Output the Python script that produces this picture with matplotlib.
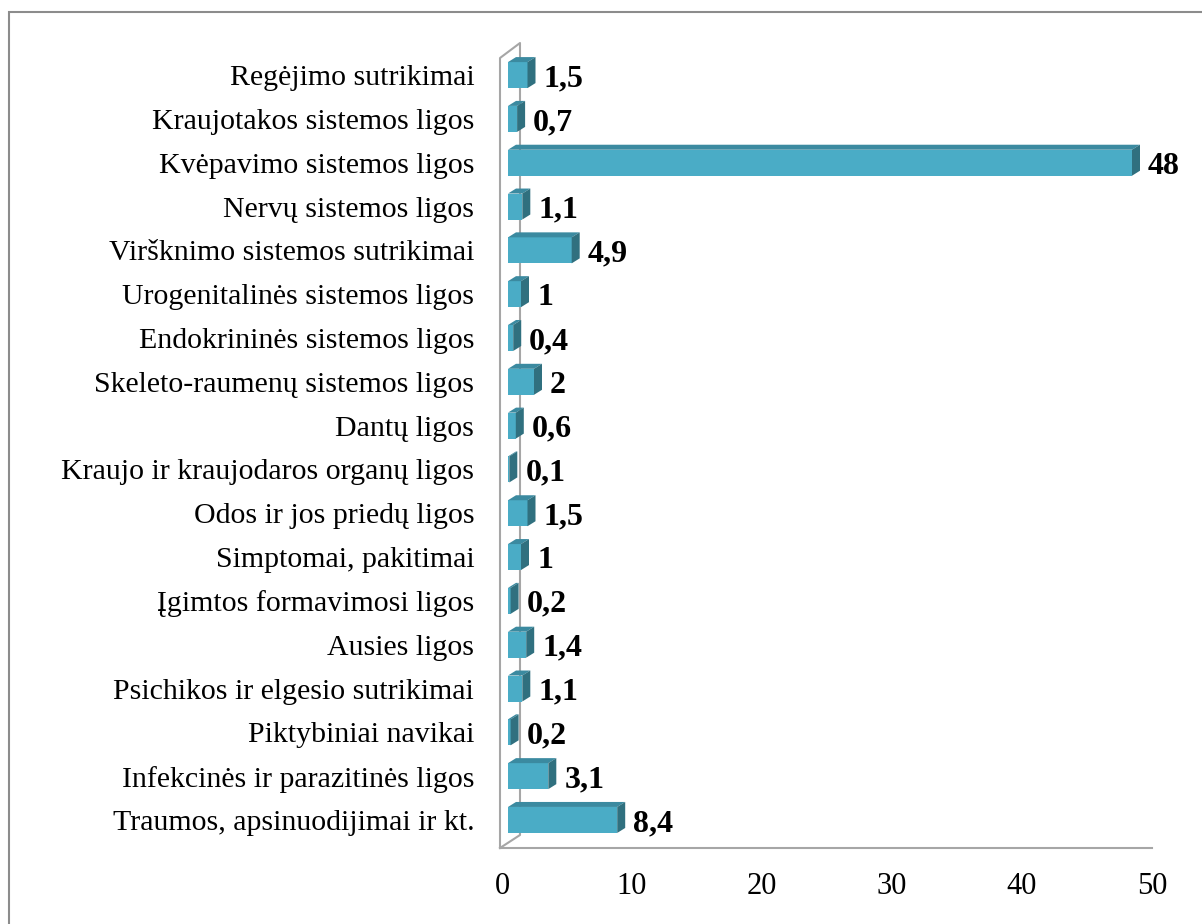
import matplotlib.pyplot as plt
from matplotlib.patches import Polygon, Rectangle

# bottom to top
categories = [
    "Traumos, apsinuodijimai ir kt.",
    "Infekcinės ir parazitinės ligos",
    "Piktybiniai navikai",
    "Psichikos ir elgesio sutrikimai",
    "Ausies ligos",
    "Įgimtos formavimosi ligos",
    "Simptomai, pakitimai",
    "Odos ir jos priedų ligos",
    "Kraujo ir kraujodaros organų ligos",
    "Dantų ligos",
    "Skeleto-raumenų sistemos ligos",
    "Endokrininės sistemos ligos",
    "Urogenitalinės sistemos ligos",
    "Viršknimo sistemos sutrikimai",
    "Nervų sistemos ligos",
    "Kvėpavimo sistemos ligos",
    "Kraujotakos sistemos ligos",
    "Regėjimo sutrikimai",
]
values = [8.4, 3.1, 0.2, 1.1, 1.4, 0.2, 1, 1.5, 0.1, 0.6, 2, 0.4, 1, 4.9, 1.1, 48, 0.7, 1.5]
labels = ["8,4", "3,1", "0,2", "1,1", "1,4", "0,2", "1", "1,5", "0,1", "0,6", "2", "0,4", "1", "4,9", "1,1", "48", "0,7", "1,5"]
xticks = [0, 10, 20, 30, 40, 50]

W, H = 1202, 924
plt.rcParams['font.family'] = ['Liberation Serif', 'DejaVu Serif']
fig = plt.figure(figsize=(W / 100, H / 100), dpi=100)

# axes in pixel terms: x 502..1152, y 58..848 (from top)
left, right, top, bottom = 502, 1152, 58, 848
ax = fig.add_axes([left / W, (H - bottom) / H, (right - left) / W, (bottom - top) / H])
ymin, ymax = -0.64, 17.39
ax.set_xlim(0, 50)
ax.set_ylim(ymin, ymax)
sx = (right - left) / 50.0
sy = (bottom - top) / (ymax - ymin)

front = '#4aacc6'
topc = '#3b8aa0'
side = '#30707f'

x0 = 6 / sx
h = 26 / sy
ddx = 8 / sx
ddy = 5 / sy
for i, (v, lab) in enumerate(zip(values, labels)):
    yb, yt = i - h / 2, i + h / 2
    ax.add_patch(Rectangle((x0, yb), v, h, facecolor=front, edgecolor='none', zorder=3))
    ax.add_patch(Polygon([(x0, yt), (x0 + v, yt), (x0 + v + ddx, yt + ddy), (x0 + ddx, yt + ddy)],
                         closed=True, facecolor=topc, edgecolor='none', zorder=3, clip_on=False))
    ax.add_patch(Polygon([(x0 + v, yb), (x0 + v + ddx, yb + ddy), (x0 + v + ddx, yt + ddy), (x0 + v, yt)],
                         closed=True, facecolor=side, edgecolor='none', zorder=3, clip_on=False))
    ax.text(x0 + v + ddx + 8 / sx, i - 0.08, lab, fontsize=23, fontweight='bold',
            ha='left', va='center', zorder=4)

# walls
wall = '#a6a6a6'
fx = -2 / sx
bx = 18 / sx
ax.plot([fx, fx, bx, bx, fx], [ymin, ymax, ymax + 15 / sy, ymin + 13 / sy, ymin],
        color=wall, lw=1.5, clip_on=False, zorder=2)
ax.plot([fx, 50], [ymin, ymin], color=wall, lw=1.5, clip_on=False, zorder=2)

for s in ax.spines.values():
    s.set_visible(False)
ax.set_xticks(xticks)
ax.set_xticklabels([str(t) for t in xticks], fontsize=22)
ax.set_yticks(range(len(categories)))
ax.set_yticklabels(categories, fontsize=21.5)
ax.tick_params(axis='x', length=0, pad=17)
ax.tick_params(axis='y', length=0, pad=20)

# chart border
fig.patches.append(Rectangle((9 / W, -0.1), 1.2, (H - 12) / H + 0.1, transform=fig.transFigure,
                             facecolor='none', edgecolor='#8c8c8c', lw=1.5))

fig.savefig('out.png', dpi=100)
